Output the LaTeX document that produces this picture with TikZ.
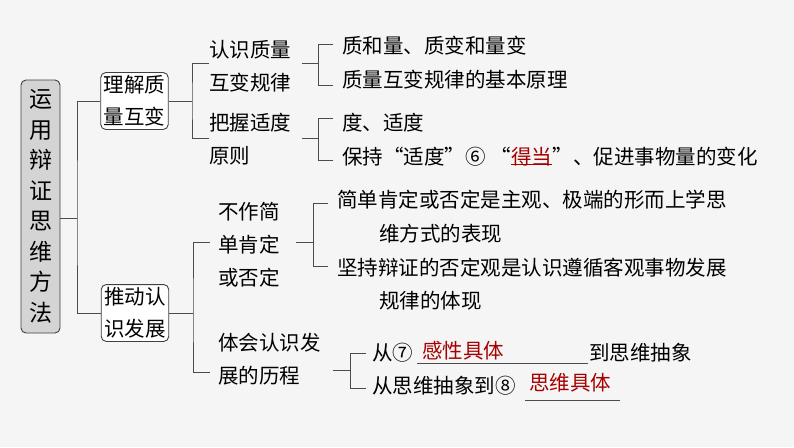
\documentclass[tikz,border=0pt]{standalone}
\usepackage{fontspec}
\setmainfont{Noto Sans CJK SC}
\begin{document}
\begin{tikzpicture}[x=1pt,y=-1pt,
  ln/.style={draw=black!70,line width=1pt},
  bx/.style={draw=black!75,line width=0.9pt,rounded corners=5pt,fill=white,align=center,inner sep=3pt,font=\fontsize{20.5}{32}\selectfont},
  tx/.style={anchor=west,inner sep=0pt,align=left,font=\fontsize{20.5}{33}\selectfont},
  rd/.style={text=red!65!black}]
\fill[black!4] (0,0) rectangle (794,447);
\useasboundingbox (0,0) rectangle (794,447);
\node[bx,fill=black!17,minimum width=39pt,minimum height=253pt,font=\fontsize{23}{30.5}\selectfont] (root) at (40.5,206.5) {运\\用\\辩\\证\\思\\维\\方\\法};
\node[bx] (b1) at (134.5,101) {理解质\\量互变};
\node[bx] (b2) at (135,313) {推动认\\识发展};
\node[tx] (n1a) at (209,66) {认识质量\\互变规律};
\node[tx] (n1b) at (209,139) {把握适度\\原则};
\node[tx,align=center] (n2a) at (218,245) {不作简\\单肯定\\或否定};
\node[tx] (n2b) at (218,359) {体会认识发\\展的历程};
\node[tx] (l1) at (342,46) {质和量、质变和量变};
\node[tx] (l2) at (342,80) {质量互变规律的基本原理};
\node[tx] (l3) at (342,123) {度、适度};
\node[tx] (l4) at (342,157) {保持“适度”⑥ “};
\node[tx,rd] (r6) at (l4.east) {得当};
\node[tx] (l4b) at (r6.east) {”、促进事物量的变化};
\draw[red!65!black,line width=0.7pt] ([yshift=2pt]r6.south west)--([yshift=2pt]r6.south east);
\node[tx] (l5) at (337,200) {简单肯定或否定是主观、极端的形而上学思};
\node[tx] (l5b) at (379,234) {维方式的表现};
\node[tx] (l6) at (337,268) {坚持辩证的否定观是认识遵循客观事物发展};
\node[tx] (l6b) at (379,301) {规律的体现};
\node[tx] (l7) at (372,353) {从⑦};
\node[tx,rd] (r7) at (422,351) {感性具体};
\node[tx] (l7b) at (589,353) {到思维抽象};
\draw[black!70,line width=0.7pt] (417,363)--(588,363);
\node[tx] (l8) at (372,386) {从思维抽象到⑧};
\node[tx,rd] (r8) at (529,383) {思维具体};
\draw[black!70,line width=0.7pt] (525,400)--(620,400);
% connectors
\coordinate (v0) at (77,218);
\draw[ln] (root.east|-v0) -- (v0);
\draw[ln] (b1.west) -| (v0) |- (b2.west);
\coordinate (v1) at (192,101);
\draw[ln] (b1.east) -- (v1);
\draw[ln] (n1a.west|-0,63) -| (v1) |- (n1b.west|-0,138);
\draw[ln] (302,63) -- (318,63);
\draw[ln] (333,44) -| (318,85) -- (333,85);
\draw[ln] (302,138) -- (318,138);
\draw[ln] (333,118) -| (318,160) -- (333,160);
\coordinate (v2) at (193,313);
\draw[ln] (b2.east) -- (v2);
\draw[ln] (210,242) -| (v2) |- (210,372);
\draw[ln] (296,242) -- (313,242);
\draw[ln] (328,203) -| (313,266) -- (328,266);
\draw[ln] (333,370) -- (350,370);
\draw[ln] (366,353) -| (350,388) -- (366,388);
\end{tikzpicture}
\end{document}
